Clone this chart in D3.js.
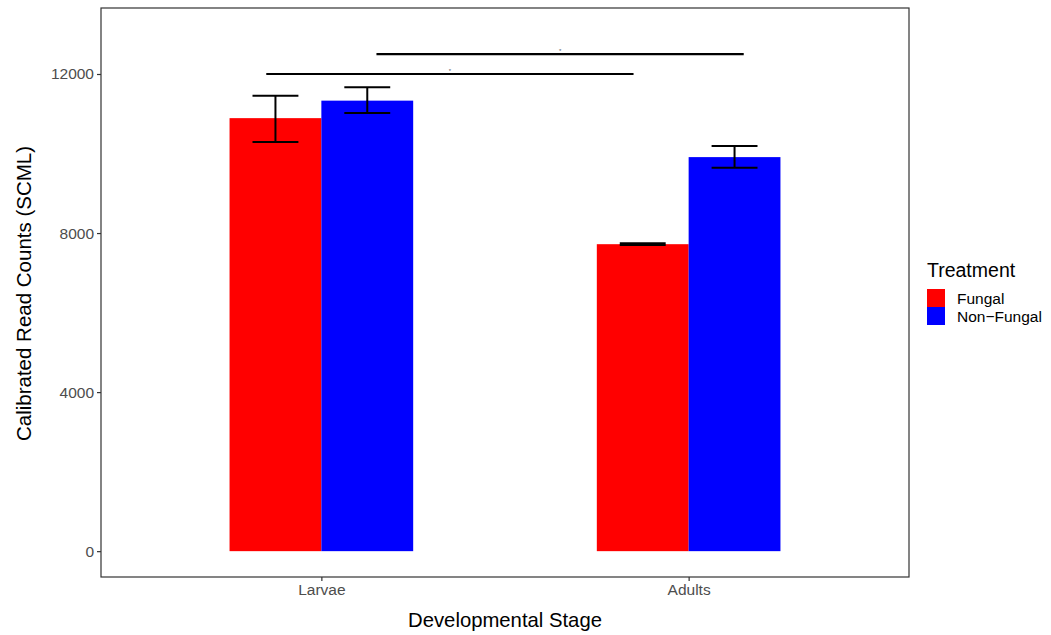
<!DOCTYPE html>
<html>
<head>
<meta charset="utf-8">
<script src="https://cdn.jsdelivr.net/npm/d3@7"></script>
<style>
  html, body { margin: 0; padding: 0; background: #fff; }
  svg { display: block; font-family: "Liberation Sans", Arial, sans-serif; }
</style>
</head>
<body>
<svg id="chart" width="1051" height="635"></svg>
<script>
// Developmental stages on the x axis
const stages = ["Larvae", "Adults"];
// Treatment groups (dodged bars)
const treatments = ["Fungal", "Non\u2212Fungal"];
const treatmentColors = ["#ff0000", "#0000ff"];
// Mean calibrated read counts per stage, one array per treatment
const fungalMeans = [10890, 7720];
const nonFungalMeans = [11330, 9910];
// Error bar extents (lower / upper) per stage
const fungalLower = [10290, 7700];
const fungalUpper = [11450, 7745];
const nonFungalLower = [11020, 9640];
const nonFungalUpper = [11670, 10190];
// Y axis ticks
const yTicks = [0, 4000, 8000, 12000];
// Significance brackets: start/end position (in stage units), height, label
const sigStart = [0.85, 1.15];
const sigEnd = [1.85, 2.15];
const sigHeight = [12000, 12500];
const sigLabel = ["*", "*"];

const rows = [];
stages.forEach((s, i) => {
  rows.push({ stage: s, treatment: treatments[0], mean: fungalMeans[i], lo: fungalLower[i], hi: fungalUpper[i] });
  rows.push({ stage: s, treatment: treatments[1], mean: nonFungalMeans[i], lo: nonFungalLower[i], hi: nonFungalUpper[i] });
});

const svg = d3.select("#chart");
const panel = { left: 101, right: 909, top: 8, bottom: 577 };

// Continuous x in stage units (1, 2) with ggplot-like discrete expansion
const x = d3.scaleLinear().domain([0.4, 2.6]).range([panel.left, panel.right]);
const dodge = d3.scaleBand().domain(treatments).range([-0.25, 0.25]);
const y = d3.scaleLinear().domain([-650, 13660]).range([panel.bottom, panel.top]);
const color = d3.scaleOrdinal().domain(treatments).range(treatmentColors);

const g = svg.append("g");

// Bars
g.selectAll("rect.bar").data(rows).join("rect")
  .attr("class", "bar")
  .attr("x", d => x(stages.indexOf(d.stage) + 1 + dodge(d.treatment)))
  .attr("width", x(dodge.bandwidth()) - x(0))
  .attr("y", d => y(d.mean))
  .attr("height", d => y(0) - y(d.mean))
  .attr("fill", d => color(d.treatment));

// Error bars
const cap = dodge.bandwidth() / 4;
const eb = g.selectAll("g.err").data(rows).join("g").attr("class", "err")
  .attr("stroke", "#000").attr("stroke-width", 2).attr("fill", "none");
eb.each(function(d) {
  const c = stages.indexOf(d.stage) + 1 + dodge(d.treatment) + dodge.bandwidth() / 2;
  const sel = d3.select(this);
  sel.append("line").attr("x1", x(c)).attr("x2", x(c)).attr("y1", y(d.lo)).attr("y2", y(d.hi));
  sel.append("line").attr("x1", x(c - cap)).attr("x2", x(c + cap)).attr("y1", y(d.lo)).attr("y2", y(d.lo));
  sel.append("line").attr("x1", x(c - cap)).attr("x2", x(c + cap)).attr("y1", y(d.hi)).attr("y2", y(d.hi));
});

// Significance brackets
sigStart.forEach((s, i) => {
  g.append("line")
    .attr("x1", x(s)).attr("x2", x(sigEnd[i]))
    .attr("y1", y(sigHeight[i])).attr("y2", y(sigHeight[i]))
    .attr("stroke", "#000").attr("stroke-width", 2.2);
  g.append("text")
    .attr("x", x((s + sigEnd[i]) / 2))
    .attr("y", y(sigHeight[i]) - 1)
    .attr("text-anchor", "middle")
    .attr("font-size", 6)
    .attr("fill", "#556")
    .text(sigLabel[i]);
});

// Panel border
svg.append("rect")
  .attr("x", panel.left).attr("y", panel.top)
  .attr("width", panel.right - panel.left).attr("height", panel.bottom - panel.top)
  .attr("fill", "none").attr("stroke", "#333").attr("stroke-width", 1.2);

// Y axis
const yAxis = svg.append("g").attr("transform", `translate(${panel.left},0)`)
  .call(d3.axisLeft(y).tickValues(yTicks).tickSize(4).tickPadding(3).tickFormat(d3.format("d")));
yAxis.select(".domain").remove();
yAxis.selectAll(".tick line").attr("stroke", "#333").attr("stroke-width", 1.2);
yAxis.selectAll(".tick text").attr("fill", "#4d4d4d").attr("font-size", 15.5)
  .attr("font-family", "Liberation Sans, Arial, sans-serif");

// X axis
const xAxis = svg.append("g").attr("transform", `translate(0,${panel.bottom})`)
  .call(d3.axisBottom(x).tickValues([1, 2]).tickSize(4).tickPadding(3).tickFormat(v => stages[v - 1]));
xAxis.select(".domain").remove();
xAxis.selectAll(".tick line").attr("stroke", "#333").attr("stroke-width", 1.2);
xAxis.selectAll(".tick text").attr("fill", "#4d4d4d").attr("font-size", 15.5)
  .attr("font-family", "Liberation Sans, Arial, sans-serif");

// Axis titles
svg.append("text")
  .attr("x", (panel.left + panel.right) / 2).attr("y", 627)
  .attr("text-anchor", "middle").attr("font-size", 20.3).attr("fill", "#000")
  .text("Developmental Stage");
svg.append("text")
  .attr("transform", `translate(31,${(panel.top + panel.bottom) / 2 + 1}) rotate(-90)`)
  .attr("text-anchor", "middle").attr("font-size", 20.5).attr("fill", "#000")
  .text("Calibrated Read Counts (SCML)");

// Legend
const legend = svg.append("g").attr("transform", "translate(927,0)");
legend.append("text").attr("x", 0).attr("y", 277).attr("font-size", 19.5).attr("fill", "#000").text("Treatment");
treatments.forEach((t, i) => {
  legend.append("rect").attr("x", 0).attr("y", 289 + i * 18).attr("width", 18).attr("height", 18).attr("fill", color(t));
  legend.append("text").attr("x", 30).attr("y", 289 + i * 18 + 14.5).attr("font-size", 15.5).attr("fill", "#000").text(t);
});
</script>
</body>
</html>
